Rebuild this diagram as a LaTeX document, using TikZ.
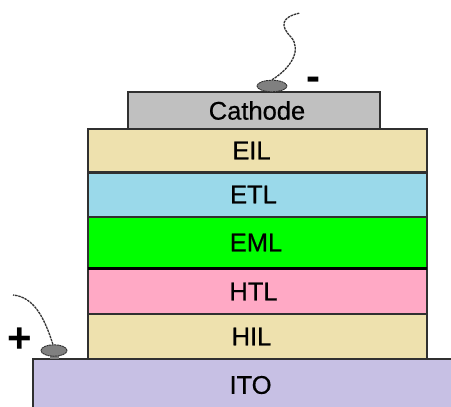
\documentclass[tikz,border=0pt]{standalone}
\usepackage{fontspec}
\setmainfont{Liberation Sans}
\newfontfamily\lblfont[FakeBold=0.6]{Liberation Sans}
\usetikzlibrary{shapes.geometric}
\definecolor{edge}{HTML}{303030}
\definecolor{cathodec}{HTML}{C0C0C0}
\definecolor{tanc}{HTML}{EEE1AE}
\definecolor{etlc}{HTML}{9AD9EA}
\definecolor{emlc}{HTML}{00FF00}
\definecolor{htlc}{HTML}{FFA9C5}
\definecolor{itoc}{HTML}{C7C0E4}
\definecolor{wirec}{HTML}{333333}
\definecolor{blobc}{HTML}{808080}
\begin{document}
\begin{tikzpicture}[x=1pt,y=-1pt,
  layer/.style={draw=edge, line width=2pt, inner sep=0pt, outer sep=0pt},
  lbl/.style={inner sep=0pt, text=black, font=\lblfont\fontsize{25.5}{30}\selectfont},
  sign/.style={inner sep=0pt, anchor=base, text=black, font=\bfseries\fontsize{42}{42}\selectfont},
  wire/.style={draw=wirec, line width=1.3pt, dash pattern=on 2.5pt off 0.8pt},
  blob/.style={ellipse, fill=blobc, draw=edge, line width=0.9pt, dash pattern=on 2pt off 0.6pt, inner sep=0pt, minimum width=#1, minimum height=11.5pt}]
\useasboundingbox (0,0) rectangle (451,407);
% layers
\node[layer, fill=itoc, minimum width=436pt, minimum height=50pt] (ito) at (251,384) {};
\node[layer, fill=tanc, minimum width=339pt, minimum height=45pt] (hil) at (257.5,336.5) {};
\node[layer, fill=htlc, minimum width=339pt, minimum height=45pt] (htl) at (257.5,291.5) {};
\node[layer, fill=emlc, minimum width=339pt, minimum height=52pt] (eml) at (257.5,242.5) {};
\draw[draw=black, line width=3.2pt] (eml.south west) -- (eml.south east);
\node[layer, fill=etlc, minimum width=339pt, minimum height=44pt] (etl) at (257.5,194.5) {};
\node[layer, fill=tanc, minimum width=339pt, minimum height=43pt] (eil) at (257.5,150.5) {};
\node[layer, fill=cathodec, minimum width=252pt, minimum height=37pt] (cath) at (254,110.5) {};
% labels
\node[lbl] (itot) at ([xshift=-0.5pt,yshift=-1pt]ito.center) {ITO};
\node[lbl] (hilt) at ([xshift=-6pt]hil.center) {HIL};
\node[lbl] (htlt) at ([xshift=-4pt]htl.center) {HTL};
\node[lbl] (emlt) at ([xshift=-1.5pt]eml.center) {EML};
\node[lbl] (etlt) at ([xshift=-4pt]etl.center) {ETL};
\node[lbl] (eilt) at ([xshift=-6pt]eil.center) {EIL};
\node[lbl] (catht) at ([xshift=3pt]cath.center) {Cathode};
% contacts
\fill[blobc] (268,88) rectangle (277,92);
\node[blob=30pt] (cb) at (272,86) {};
\coordinate (cend) at (300,13);
\draw[wire] (cb.north) .. controls (291,68) and (302,50) .. (291,37) .. controls (280,26) and (281,17) .. (cend);
\fill[blobc] (50,354) rectangle (59,359);
\node[blob=26pt] (ab) at (54,350.5) {};
\coordinate (aend) at (13,295);
\draw[wire] (ab.100) .. controls (45,320) and (35,297) .. (aend);
% signs
\node[sign] (minus) at (313,90) {-};
\node[sign] (plus) at (20,352.5) {+};
\end{tikzpicture}
\end{document}
